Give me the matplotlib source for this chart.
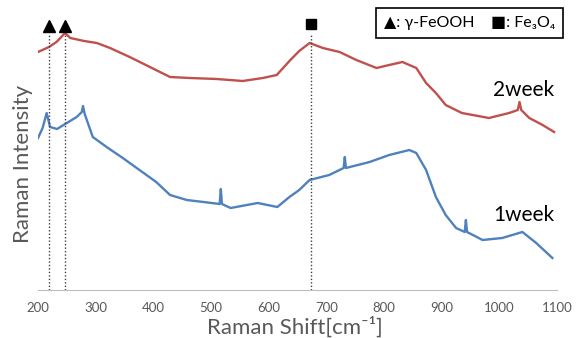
import matplotlib.pyplot as plt

plt.rcParams['font.family'] = ['Lato', 'DejaVu Sans']

# Raman shift (cm-1) and intensity (a.u.)
shift_2w = [200, 219, 232, 247, 256, 280, 302, 325, 359, 394, 429, 463, 510, 555,
            590, 614, 636, 653, 671, 694, 723, 752, 787, 809, 832, 856, 873, 890,
            907, 935, 982, 1017, 1032, 1035, 1038, 1052, 1075, 1095]
int_2w = [238, 243, 248, 257, 252, 249, 247, 242, 233, 223, 213, 212, 211, 209,
          212, 215, 229, 239, 247, 242, 238, 230, 222, 225, 228, 222, 207, 197,
          185, 177, 172, 177, 180, 188, 180, 172, 165, 158]

shift_1w = [200, 208, 215, 221, 233, 250, 267, 276, 278, 281, 295, 319, 347, 376,
            405, 429, 458, 487, 515, 517, 519, 534, 581, 615, 636, 653, 671, 705,
            730, 732, 734, 775, 809, 844, 856, 873, 890, 907, 925, 940, 942, 944,
            971, 1005, 1040, 1064, 1092]
int_1w = [152, 162, 177, 163, 161, 167, 173, 178, 184, 176, 153, 143, 132, 120,
          108, 95, 90, 88, 86, 101, 86, 82, 87, 83, 93, 100, 110, 115,
          122, 133, 122, 128, 135, 140, 137, 120, 93, 75, 62, 58, 70, 58,
          50, 52, 58, 47, 32]

peak_feooh = [219, 247]
peak_fe3o4 = [673]

fig = plt.figure(figsize=(5.79, 3.38), dpi=100)
ax = fig.add_axes([38 / 579, 48 / 338, 519 / 579, 280 / 338])

ax.plot(shift_2w, int_2w, color="#C0504D", lw=1.7)
ax.plot(shift_1w, int_1w, color="#4F81BD", lw=1.7)

for p in peak_feooh + peak_fe3o4:
    ax.plot([p, p], [0, 255], color="#404040", lw=1.0, ls=(0, (1, 1.5)))
ax.plot(peak_feooh, [264, 264], "^", color="black", ms=8, ls="none", clip_on=False)
ax.plot(peak_fe3o4, [266], "s", color="black", ms=7, ls="none", clip_on=False)

ax.text(1095, 200, "2week", ha="right", va="center", fontsize=15)
ax.text(1095, 75, "1week", ha="right", va="center", fontsize=15)

ax.text(1097, 267, "\u25b2: \u03b3-FeOOH    \u25a0: Fe\u2083O\u2084", ha="right", va="center",
        fontsize=11.5, clip_on=False,
        bbox=dict(boxstyle="square,pad=0.5", fc="white", ec="black", lw=1.2))

ax.set_xlim(200, 1100)
ax.set_ylim(0, 280)
ax.set_xticks(range(200, 1101, 100))
ax.set_yticks([])
ax.tick_params(axis="x", length=0, labelsize=9.5, labelcolor="#595959", pad=9)
for s in ["top", "right", "left"]:
    ax.spines[s].set_visible(False)
ax.spines["bottom"].set_color("#BFBFBF")

ax.set_xlabel("Raman Shift[cm\u207b\u00b9]", fontsize=16, color="#595959")
ax.xaxis.set_label_coords(0.495, -0.095)
ax.set_ylabel("Raman Intensity", fontsize=16, color="#595959")
ax.yaxis.set_label_coords(-0.01, 0.45)

fig.savefig("out.png", dpi=100)
